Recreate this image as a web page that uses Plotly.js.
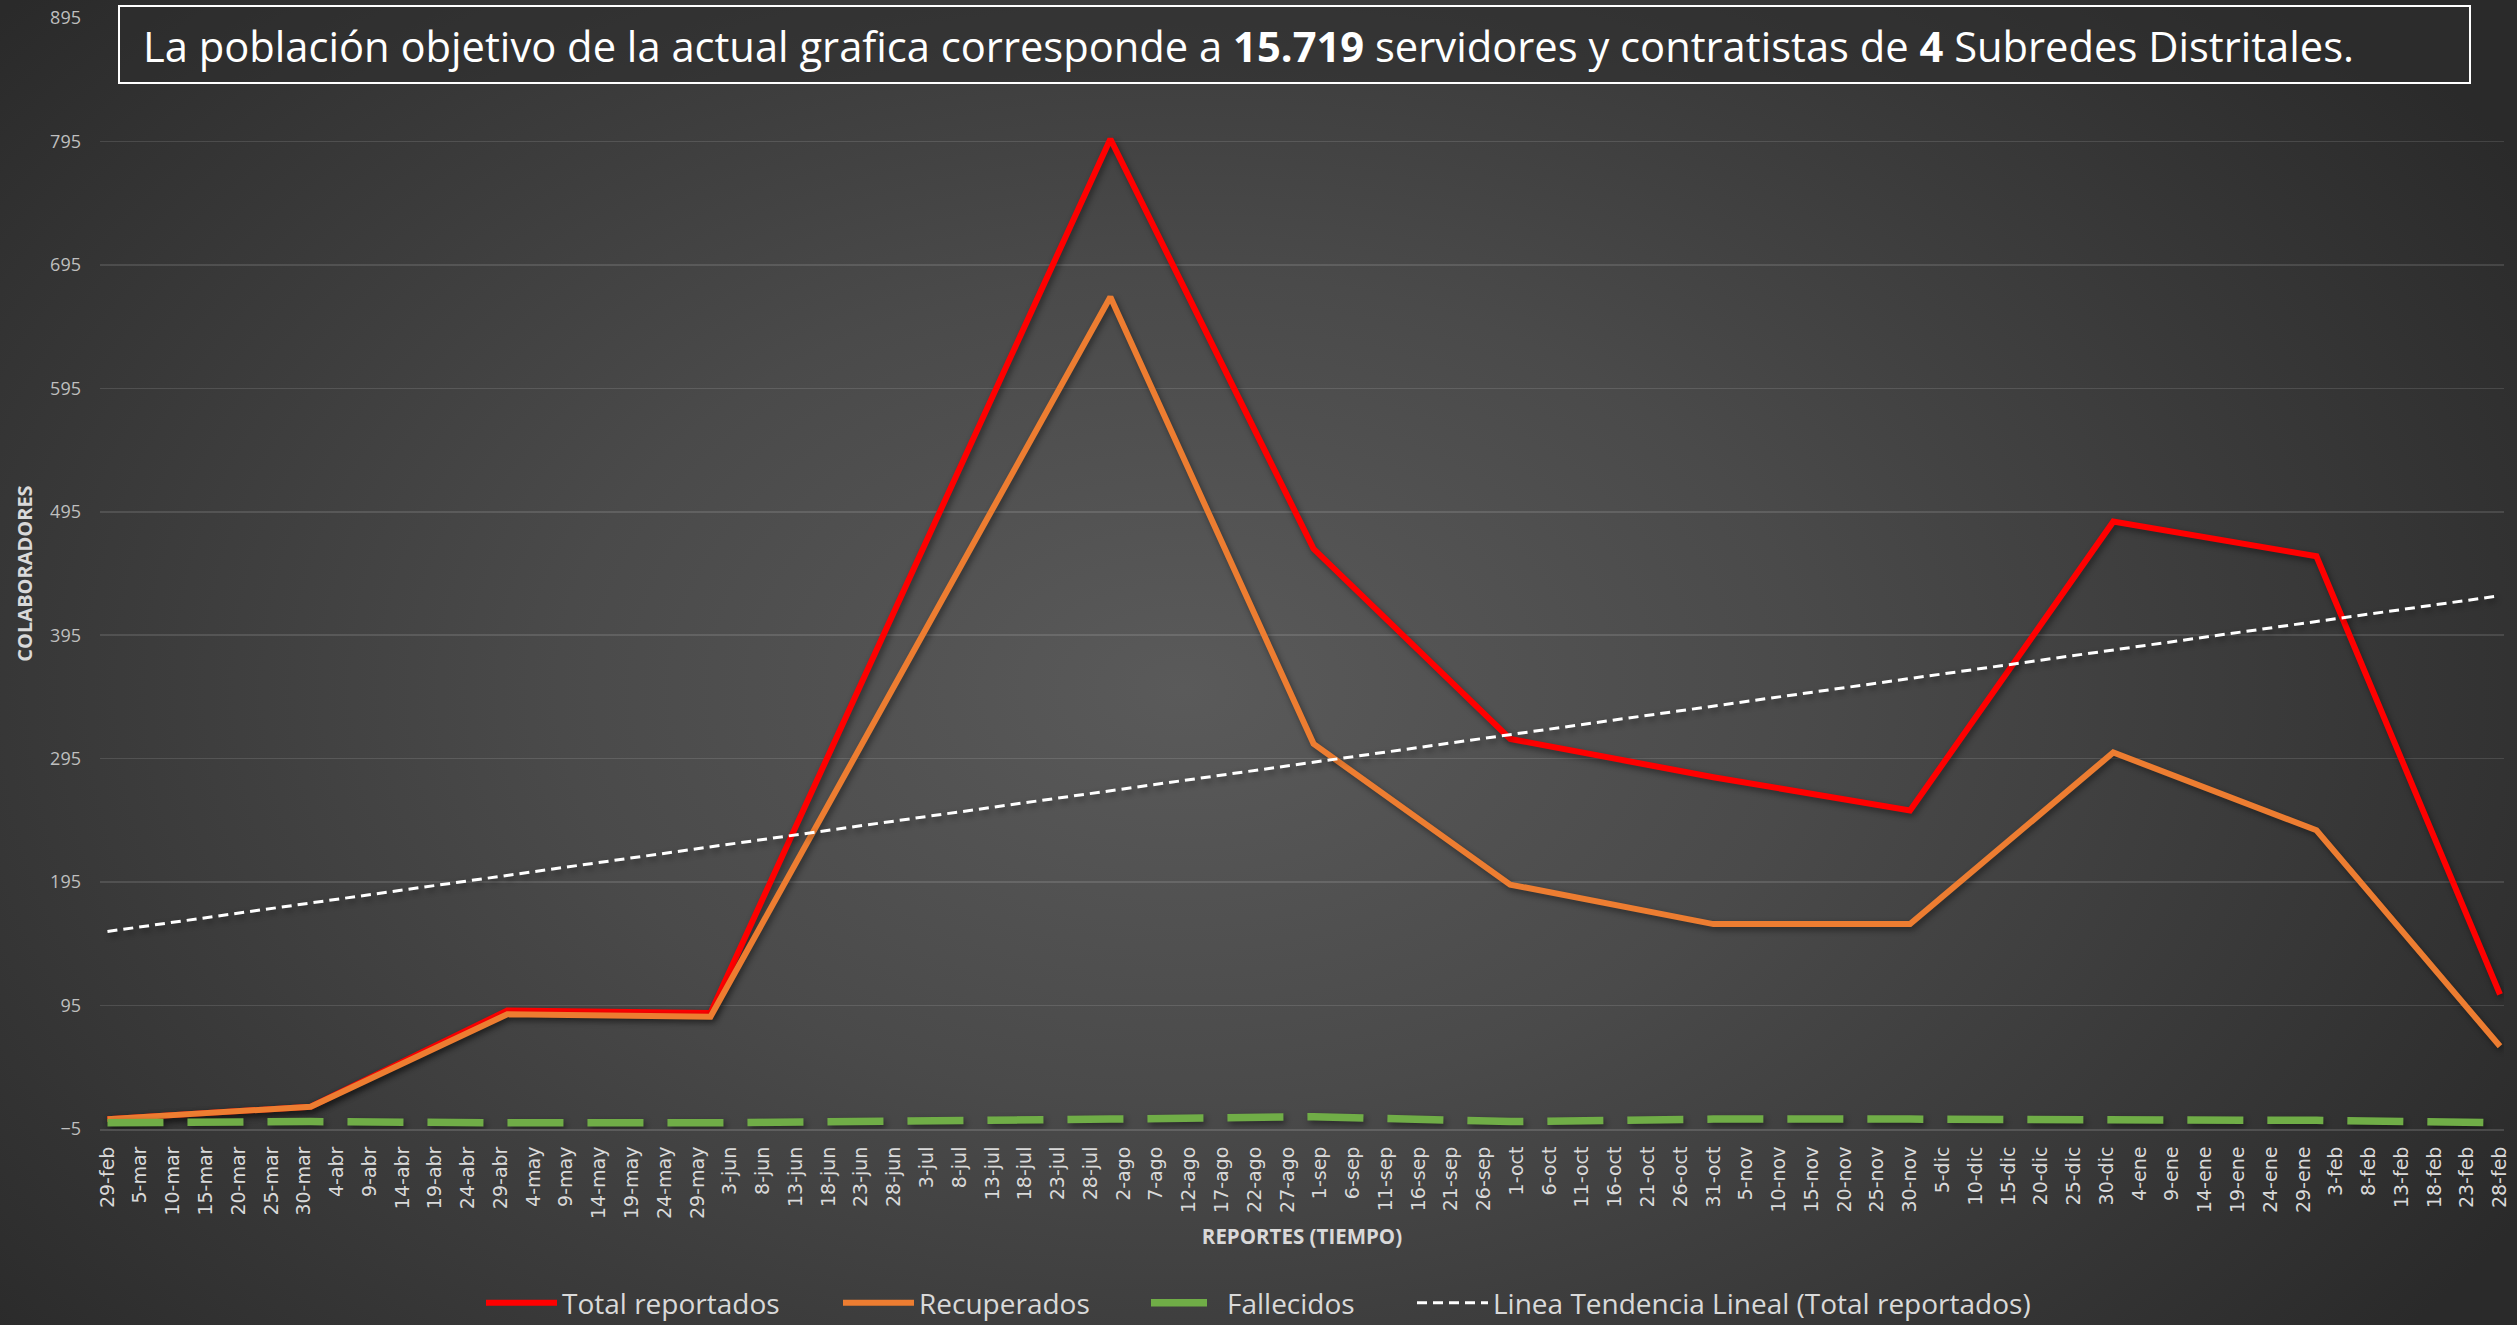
<!DOCTYPE html>
<html><head><meta charset="utf-8">
<script src="https://cdn.plot.ly/plotly-3.0.1.min.js"></script>
<style>
html,body{margin:0;padding:0;width:2517px;height:1325px;overflow:hidden;
background: radial-gradient(ellipse 62% 78% at 47% 52%, #5a5a5a 0%, #4a4a4a 40%, #2a2a2a 100%);}
#chart{width:2517px;height:1325px;}
.scatterlayer .js-line{filter:drop-shadow(2px 3px 3px rgba(0,0,0,0.45));}
</style></head><body><div id="chart"></div>
<script>
// Fechas de reporte (cierre de mes)
const fechas = ['2020-02-29','2020-03-31','2020-04-30','2020-05-31','2020-07-31','2020-08-31',
                '2020-09-30','2020-10-31','2020-11-30','2020-12-31','2021-01-31','2021-02-28'];
const totalReportados = [3, 13, 91, 89, 797, 465, 311, 280, 253, 487, 459, 104];
const recuperados     = [3, 13, 88, 86, 669, 307, 193, 161, 161, 300, 237, 62];
const fallecidos      = [0, 1, 0, 0, 3, 5, 1, 3, 3, 3, 2, 0];
const tendenciaFechas = ['2020-02-29','2021-02-28'];
const tendencia = [155, 427];

const tickLabels = ['29-feb','5-mar','10-mar','15-mar','20-mar','25-mar','30-mar','4-abr','9-abr','14-abr','19-abr','24-abr','29-abr','4-may','9-may','14-may','19-may','24-may','29-may','3-jun','8-jun','13-jun','18-jun','23-jun','28-jun','3-jul','8-jul','13-jul','18-jul','23-jul','28-jul','2-ago','7-ago','12-ago','17-ago','22-ago','27-ago','1-sep','6-sep','11-sep','16-sep','21-sep','26-sep','1-oct','6-oct','11-oct','16-oct','21-oct','26-oct','31-oct','5-nov','10-nov','15-nov','20-nov','25-nov','30-nov','5-dic','10-dic','15-dic','20-dic','25-dic','30-dic','4-ene','9-ene','14-ene','19-ene','24-ene','29-ene','3-feb','8-feb','13-feb','18-feb','23-feb','28-feb'];
const tickStart = '2020-02-29';
const tickStepDays = 5;

const tickVals = tickLabels.map((_, i) => {
  const d = new Date(tickStart + 'T00:00:00Z');
  d.setUTCDate(d.getUTCDate() + i * tickStepDays);
  return d.toISOString().slice(0, 10);
});

const FONT = 'Open Sans, Noto Sans, sans-serif';

const traces = [
  {x: fechas, y: totalReportados, name: 'Total reportados', type: 'scatter', mode: 'lines',
   line: {color: '#FF0000', width: 6}, legendwidth: 271},
  {x: fechas, y: recuperados, name: 'Recuperados', type: 'scatter', mode: 'lines',
   line: {color: '#ED7D31', width: 6}, legendwidth: 222},
  {x: fechas, y: fallecidos, name: 'Fallecidos', type: 'scatter', mode: 'lines',
   line: {color: '#70AD47', width: 7.5, dash: '56px,24px'}, legendwidth: 180},
  {x: tendenciaFechas, y: tendencia, name: 'Linea Tendencia Lineal (Total reportados)', type: 'scatter', mode: 'lines',
   line: {color: '#FFFFFF', width: 3, dash: '10px,6px'}}
];

const layout = {
  width: 2517, height: 1325,
  paper_bgcolor: 'rgba(0,0,0,0)', plot_bgcolor: 'rgba(0,0,0,0)',
  margin: {l: 100, r: 13, t: 18, b: 196},
  font: {family: FONT, color: '#d9d9d9'},
  showlegend: true,
  legend: {orientation: 'h', xref: 'container', yref: 'container', x: 481/2517, xanchor: 'left',
           y: 22/1325, yanchor: 'middle', font: {size: 28, color: '#d9d9d9', family: FONT},
           itemwidth: 71, bgcolor: 'rgba(0,0,0,0)', traceorder: 'normal'},
  xaxis: {
    type: 'date', range: ['2020-02-27 20:40', '2021-02-28 14:40'],
    tickmode: 'array', tickvals: tickVals, ticktext: tickLabels,
    tickangle: -90, tickfont: {family: 'DejaVu Sans, sans-serif', size: 19, color: '#d9d9d9'},
    ticks: '', ticklabelstandoff: 8,
    showgrid: false, zeroline: false, showline: true, linecolor: 'rgba(255,255,255,0.14)', linewidth: 2,
    automargin: false,
    title: {text: '<b>REPORTES (TIEMPO)</b>', font: {size: 20.5, color: '#d9d9d9', family: FONT}, standoff: 12}
  },
  yaxis: {
    range: [-5, 895], tick0: -5, dtick: 100, tickmode: 'linear',
    tickfont: {size: 18, color: '#bfbfbf', family: FONT},
    ticks: '', ticklabelstandoff: 18,
    showgrid: true, gridcolor: 'rgba(255,255,255,0.12)', gridwidth: 1.5,
    zeroline: false, showline: false, automargin: false,
    title: {text: '<b>COLABORADORES</b>', font: {size: 20, color: '#d9d9d9', family: FONT}, standoff: 12}
  },
  shapes: [{
    type: 'rect', xref: 'paper', yref: 'paper',
    x0: (119-100)/2404, x1: (2470-100)/2404, y0: 1-(83-18)/1111, y1: 1-(6-18)/1111,
    line: {color: '#FFFFFF', width: 2}, fillcolor: 'rgba(45,45,45,0.55)', layer: 'above'
  }],
  annotations: [{
    xref: 'paper', yref: 'paper', x: (141-100)/2404, y: 1-(46-18)/1111, xanchor: 'left', yanchor: 'middle',
    showarrow: false, align: 'left',
    text: 'La población objetivo de la actual grafica corresponde a <b>15.719</b> servidores y contratistas de <b>4</b> Subredes Distritales.',
    font: {size: 41.7, color: '#FFFFFF', family: FONT}
  }]
};

Plotly.newPlot('chart', traces, layout, {displayModeBar: false, staticPlot: true});
</script></body></html>
